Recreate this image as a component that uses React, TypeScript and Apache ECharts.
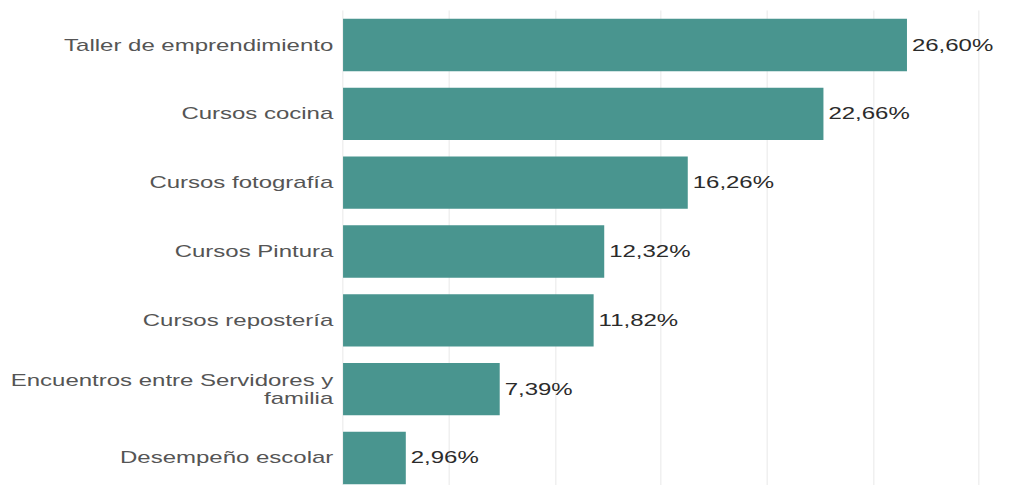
import React, { useEffect, useRef } from "react";
import * as echarts from "echarts";

const categories: string[] = [
  "Taller de emprendimiento",
  "Cursos cocina",
  "Cursos fotografía",
  "Cursos Pintura",
  "Cursos repostería",
  "Encuentros entre Servidores y\nfamilia",
  "Desempeño escolar",
];
const values: number[] = [26.6, 22.66, 16.26, 12.32, 11.82, 7.39, 2.96];
const xMin = 0;
const xMax = 30;
const xStep = 5;

const SX = 1.5;
const W = 1019 / SX;
const H = 500;

export default function App() {
  const ref = useRef<HTMLDivElement>(null);
  useEffect(() => {
    if (!ref.current) return;
    const chart = echarts.init(ref.current, undefined, { renderer: "svg" });
    const font = "'Liberation Sans', Arial, sans-serif";
    chart.setOption({
      animation: false,
      grid: { left: 228.7, width: 424, top: 10.6, height: 481.8, containLabel: false },
      xAxis: {
        type: "value",
        min: xMin,
        max: xMax,
        interval: xStep,
        axisLabel: { show: false },
        axisLine: { show: false },
        axisTick: { show: false },
        splitLine: { show: true, lineStyle: { color: "#f0f0f0", width: 1 } },
      },
      yAxis: {
        type: "category",
        data: categories,
        inverse: true,
        axisLine: { show: false },
        axisTick: { show: false },
        axisLabel: {
          margin: 6.5,
          color: "#555555",
          fontSize: 16,
          fontFamily: font,
          lineHeight: 18,
          align: "right",
        },
      },
      series: [
        {
          type: "bar",
          data: values,
          barCategoryGap: "24%",
          itemStyle: { color: "#49958F" },
          label: {
            show: true,
            position: "right",
            distance: 3.3,
            color: "#2b2b2b",
            fontSize: 16,
            fontFamily: font,
            formatter: (p: any) => p.value.toFixed(2).replace(".", ",") + "%",
          },
        },
      ],
    });
    return () => chart.dispose();
  }, []);
  return (
    <div
      style={{
        position: "absolute",
        left: 0,
        top: 0,
        width: 1019,
        height: 485,
        overflow: "hidden",
        background: "#fff",
      }}
    >
      <div
        ref={ref}
        style={{
          width: W,
          height: H,
          transform: `scaleX(${SX})`,
          transformOrigin: "0 0",
        }}
      />
    </div>
  );
}
